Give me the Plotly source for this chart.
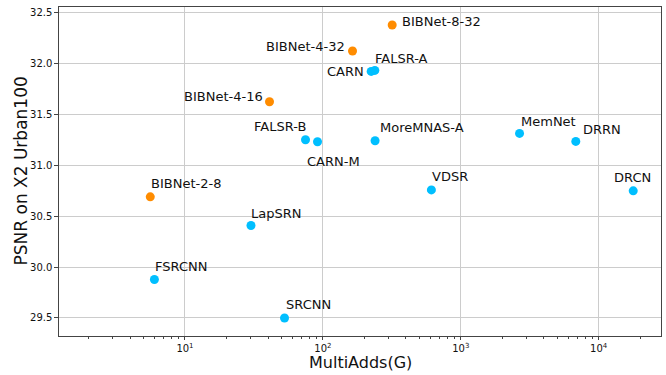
import numpy as np
import plotly.graph_objects as go

# Data
names = ["BIBNet-8-32", "BIBNet-4-32", "BIBNet-4-16", "BIBNet-2-8",
         "CARN", "FALSR-A", "FALSR-B", "CARN-M", "MoreMNAS-A", "MemNet",
         "DRRN", "VDSR", "DRCN", "LapSRN", "FSRCNN", "SRCNN"]
multiadds = [318, 164, 41, 5.6,
             224, 238, 74.8, 91.4, 239, 2667,
             6823, 612, 17800, 30.1, 6.0, 52.7]
psnr = [32.375, 32.12, 31.622, 30.689,
        31.92, 31.93, 31.249, 31.229, 31.239, 31.311,
        31.233, 30.757, 30.748, 30.408, 29.877, 29.50]
groups = ["ours"] * 4 + ["other"] * 12

x_tickvals = [10, 100, 1000, 10000]
x_ticktext = ["10<sup>1</sup>", "10<sup>2</sup>", "10<sup>3</sup>", "10<sup>4</sup>"]
x_title = "MultiAdds(G)"
y_title = "PSNR on X2 Urban100"

# Label styling (pixel offsets)
label_anchor = ["left", "right", "right", "left",
                "right", "left", "right", "left", "left", "left",
                "left", "left", "left", "left", "left", "left"]
label_dx = [8, -6, -5, -1, -5, -2, 2, -13, 3, -1, 5, -1, -21, -2, -1, -1]
label_dy = [4, 5, 5, 13, 0, 12, 13, -20, 13, 12, 12, 13, 13, 12, 13, 13]

colors = {"ours": "#FF8C00", "other": "#00BFFF"}

fig = go.Figure()
for g in ["ours", "other"]:
    idx = [i for i, gg in enumerate(groups) if gg == g]
    fig.add_trace(go.Scatter(
        x=[multiadds[i] for i in idx], y=[psnr[i] for i in idx],
        mode="markers", marker=dict(color=colors[g], size=9, line=dict(width=0)),
        showlegend=False, hoverinfo="skip"))

for i, n in enumerate(names):
    fig.add_annotation(
        x=np.log10(multiadds[i]), y=psnr[i], text=n, showarrow=False,
        xanchor=label_anchor[i], yanchor="middle",
        xshift=label_dx[i], yshift=label_dy[i],
        font=dict(family="DejaVu Sans", size=13, color="#111"))

# Axis titles as annotations for precise placement
fig.add_annotation(xref="paper", yref="paper", x=0.5, y=0, yshift=-26,
                   xanchor="center", yanchor="middle", showarrow=False,
                   text=x_title, font=dict(family="DejaVu Sans", size=16, color="#111"))
fig.add_annotation(xref="paper", yref="paper", x=0, y=0.5, xshift=-39,
                   xanchor="center", yanchor="middle", showarrow=False, textangle=-90,
                   text=y_title, font=dict(family="DejaVu Sans", size=17, color="#111"))

axis_common = dict(
    showline=True, linecolor="#444", linewidth=1.3, mirror=True,
    showgrid=True, gridcolor="#cccccc", gridwidth=1.2,
    tickcolor="#444", tickwidth=1,
    tickfont=dict(family="DejaVu Sans", size=10, color="#111"),
    zeroline=False,
)

fig.update_xaxes(
    type="log", range=[np.log10(1.22), np.log10(28300)],
    tickmode="array", tickvals=x_tickvals, ticktext=x_ticktext,
    ticks="outside", ticklen=3,
    minor=dict(ticks="outside", ticklen=2, tickcolor="#444", showgrid=False,
               tickmode="array",
               tickvals=[m * 10 ** e for e in range(0, 5) for m in range(2, 10)]),
    **axis_common)
fig.update_yaxes(
    range=[29.323, 32.552], dtick=0.5, tickformat=".1f",
    ticks="outside", ticklen=3.5,
    **axis_common)

fig.update_layout(
    width=666, height=375,
    margin=dict(l=59, r=5, t=7, b=39),
    plot_bgcolor="white", paper_bgcolor="white",
    font=dict(family="DejaVu Sans"),
)

fig.write_html("out.html")
